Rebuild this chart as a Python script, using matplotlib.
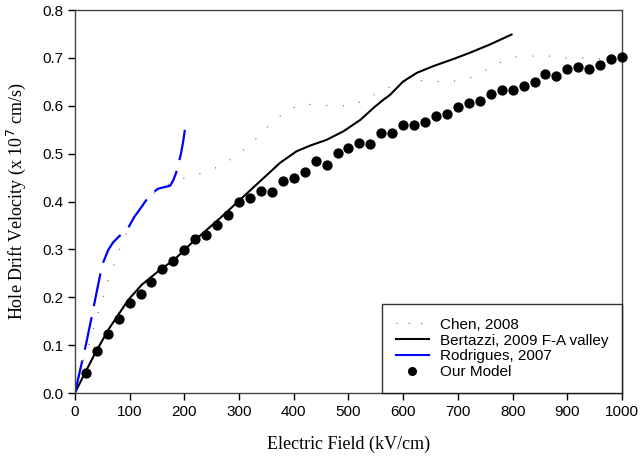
import matplotlib
matplotlib.use('Agg')
import matplotlib.pyplot as plt
from matplotlib.lines import Line2D

# Chen, 2008
chen_field = [0, 16, 26, 35, 44, 53, 63, 74, 85, 99, 120, 145, 172, 202, 233, 263, 293,
              323, 353, 384, 413, 444, 474, 505, 535, 564, 595, 625, 655, 686, 716,
              745, 776, 806, 837, 867, 897, 927, 958, 990]
chen_vel = [0.0, 0.069, 0.102, 0.139, 0.173, 0.207, 0.242, 0.276, 0.311, 0.346, 0.386,
            0.418, 0.437, 0.450, 0.460, 0.473, 0.494, 0.522, 0.557, 0.587, 0.604,
            0.602, 0.600, 0.600, 0.615, 0.634, 0.648, 0.653, 0.651, 0.651, 0.655,
            0.671, 0.690, 0.702, 0.704, 0.704, 0.700, 0.700, 0.698, 0.698]

# Bertazzi, 2009 F-A valley
bert_field = [0, 18, 37, 61, 79, 98, 122, 152, 183, 213, 240, 265, 302, 338, 375, 405,
              430, 460, 491, 522, 546, 564, 576, 600, 625, 655, 692, 722, 758, 798]
bert_vel = [0.0, 0.041, 0.083, 0.132, 0.163, 0.195, 0.226, 0.254, 0.280, 0.313, 0.340,
            0.365, 0.404, 0.442, 0.481, 0.505, 0.517, 0.529, 0.547, 0.571, 0.596,
            0.613, 0.623, 0.651, 0.669, 0.683, 0.698, 0.711, 0.728, 0.749]

# Rodrigues, 2007
rod_field = [0, 10, 20, 30, 40, 50, 61, 70, 85, 97, 108, 120, 131, 142, 152, 163,
             174, 180, 185, 190, 194, 198, 201]
rod_vel = [0.0, 0.050, 0.100, 0.155, 0.212, 0.268, 0.299, 0.315, 0.332, 0.344, 0.367,
           0.386, 0.404, 0.418, 0.427, 0.430, 0.433, 0.445, 0.460, 0.482, 0.501,
           0.526, 0.550]

# Our Model
model_field = list(range(20, 1001, 20))
model_vel = [0.042, 0.088, 0.123, 0.155, 0.188, 0.206, 0.231, 0.259, 0.275, 0.298,
             0.321, 0.330, 0.352, 0.372, 0.400, 0.407, 0.423, 0.421, 0.443, 0.450,
             0.461, 0.484, 0.476, 0.502, 0.511, 0.522, 0.521, 0.543, 0.543, 0.561,
             0.559, 0.567, 0.579, 0.584, 0.598, 0.606, 0.611, 0.624, 0.633, 0.634,
             0.642, 0.649, 0.667, 0.662, 0.676, 0.681, 0.677, 0.686, 0.697, 0.702]

plt.rcParams['font.family'] = 'Liberation Sans'

fig = plt.figure(figsize=(6.4, 4.61), dpi=100)
ax = fig.add_axes([0.117, 0.1475, 0.855, 0.8305])

ax.plot(chen_field, chen_vel, color='#666666', lw=0.8, linestyle=(0, (1, 14)))
ax.plot(bert_field, bert_vel, color='black', lw=1.5)
ax.plot(rod_field, rod_vel, color='blue', lw=1.6, linestyle=(0, (15, 5)))
ax.plot(model_field, model_vel, 'o', color='black', markersize=6.4, clip_on=False, zorder=5)

ax.set_xlim(0, 1000)
ax.set_ylim(0, 0.8)
ax.set_xticks(range(0, 1001, 100))
ax.set_yticks([i / 10 for i in range(9)])
ax.set_yticklabels([f'{i / 10:.1f}' for i in range(9)])
ax.tick_params(direction='out', length=5, width=1, labelsize=11, colors='black')
for s in ax.spines.values():
    s.set_color('#444444')
    s.set_linewidth(1)

ax.set_xlabel('Electric Field (kV/cm)', family='Liberation Serif', fontsize=13, labelpad=12)
ax.set_ylabel('Hole Drift Velocity (x 10$^7$ cm/s)', family='Liberation Serif',
              fontsize=13, labelpad=10)

handles = [
    Line2D([], [], color='#666666', lw=0.8, linestyle=(0, (1, 10))),
    Line2D([], [], color='black', lw=1.5),
    Line2D([], [], color='blue', lw=1.5),
    Line2D([], [], marker='o', color='black', linestyle='none', markersize=5.5),
]
labels = ['Chen, 2008', 'Bertazzi, 2009 F-A valley', 'Rodrigues, 2007', 'Our Model']
leg = ax.legend(handles, labels, loc='lower right', bbox_to_anchor=(1, 0),
                borderaxespad=0, fontsize=11, fancybox=False, frameon=True,
                handlelength=2.2, labelspacing=0.12, borderpad=0.9, handletextpad=0.7)
leg.get_frame().set_edgecolor('black')
leg.get_frame().set_linewidth(1)

fig.savefig('out.png', dpi=100)
